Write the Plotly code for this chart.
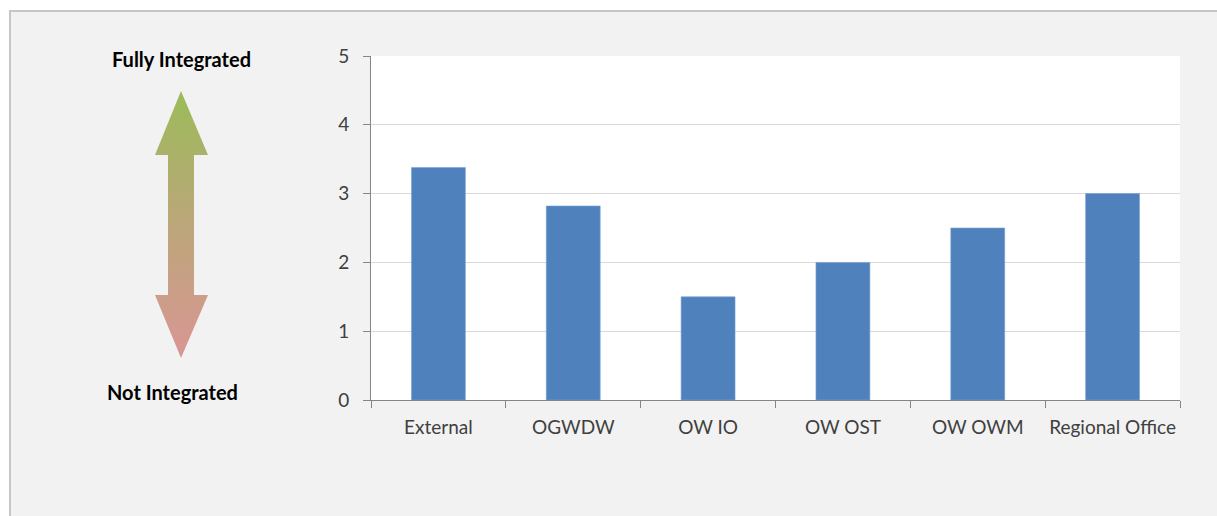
import plotly.graph_objects as go

W, H = 1217, 516

categories = ["External", "OGWDW", "OW IO", "OW OST", "OW OWM", "Regional Office"]
scores = [3.38, 2.82, 1.50, 2.00, 2.50, 3.00]
y_ticks = [0, 1, 2, 3, 4, 5]
label_top = "Fully Integrated"
label_bottom = "Not Integrated"

FONT = "Lato"

fig = go.Figure()

fig.add_trace(go.Bar(
    x=categories, y=scores,
    marker=dict(color="#4f81bd", line=dict(color="#7ea2d1", width=0.6)),
    width=0.4,
    xaxis="x", yaxis="y", showlegend=False, hoverinfo="x+y",
))

# Decorative double arrow drawn in pixel-coordinate overlay axes
ax = [181, 208, 194, 194, 208, 181, 155, 168, 168, 155, 181]
ay = [91, 155, 155, 295, 295, 358, 295, 295, 155, 155, 91]
fig.add_trace(go.Scatter(
    x=ax, y=ay, mode="lines", fill="toself",
    line=dict(width=0, color="rgba(0,0,0,0)"),
    fillgradient=dict(type="vertical", start=91, stop=358,
                      colorscale=[[0, "#9bbb59"], [0.5, "#bca77a"], [1, "#d99694"]]),
    xaxis="x2", yaxis="y2", showlegend=False, hoverinfo="skip",
))

x0, x1 = 371 / W, 1180 / W
y0, y1 = 1 - 400 / H, 1 - 56 / H

fig.update_layout(
    width=W, height=H,
    margin=dict(l=0, r=0, t=0, b=0, pad=0, autoexpand=False),
    paper_bgcolor="white",
    plot_bgcolor="rgba(0,0,0,0)",
    font=dict(family=FONT, color="#404040", size=18),
    bargap=0.6,
    xaxis=dict(
        domain=[x0, x1], anchor="y", type="category", automargin=False,
        showline=True, linecolor="#868686", linewidth=1,
        ticks="outside", ticklen=7, tickcolor="#868686", tickson="boundaries",
        showgrid=False, tickfont=dict(size=19, color="#404040"), tickangle=0,
        ticklabelstandoff=10, fixedrange=True,
    ),
    yaxis=dict(
        domain=[y0, y1], anchor="x", range=[0, 5], automargin=False,
        tickvals=y_ticks, ticktext=[str(v) for v in y_ticks],
        showline=True, linecolor="#868686", linewidth=1,
        ticks="outside", ticklen=7, tickcolor="#868686",
        showgrid=True, gridcolor="#d9d9d9", gridwidth=1, zeroline=False,
        tickfont=dict(size=19, color="#404040"), ticklabelstandoff=10,
        fixedrange=True,
    ),
    xaxis2=dict(domain=[0, 1], anchor="y2", range=[0, W], visible=False,
                fixedrange=True, automargin=False),
    yaxis2=dict(domain=[0, 1], anchor="x2", range=[H, 0], visible=False,
                fixedrange=True, automargin=False),
    shapes=[
        dict(type="rect", xref="paper", yref="paper", layer="below",
             x0=10 / W, x1=1.02, y0=-0.02, y1=1 - 11 / H,
             fillcolor="#f2f2f2", line=dict(color="#c6c6c6", width=2)),
        dict(type="rect", xref="x domain", yref="y domain", layer="below",
             x0=0, x1=1, y0=0, y1=1, fillcolor="white", line=dict(width=0)),
    ],
    annotations=[
        dict(text="<b>" + label_top + "</b>", x=181.5 / W, y=1 - 59 / H,
             xref="paper", yref="paper", showarrow=False,
             xanchor="center", yanchor="middle",
             font=dict(family=FONT, size=20, color="black")),
        dict(text="<b>" + label_bottom + "</b>", x=172 / W, y=1 - 392 / H,
             xref="paper", yref="paper", showarrow=False,
             xanchor="center", yanchor="middle",
             font=dict(family=FONT, size=20, color="black")),
    ],
)

fig.write_html("out.html")
